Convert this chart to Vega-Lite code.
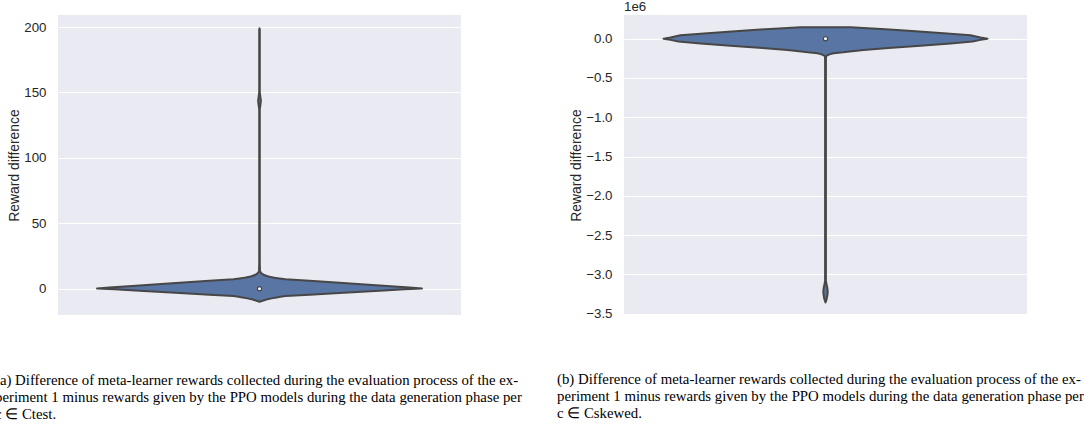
{
  "$schema": "https://vega.github.io/schema/vega-lite/v6.json",
  "padding": {"left": -5, "top": 0, "right": 0, "bottom": 0},
  "autosize": {"type": "pad"},
  "bounds": "flush",
  "spacing": 163,
  "config": {
    "view": {"fill": "#eaeaf2", "stroke": null},
    "font": "Liberation Sans",
    "axis": {"grid": true, "gridColor": "#ffffff", "gridWidth": 1.2, "domain": false, "ticks": false, "tickSize": 0, "labelFont": "Liberation Sans", "labelFontSize": 13.3, "labelColor": "#262626", "labelPadding": 12, "titleFont": "Liberation Sans", "titleFontSize": 13.9, "titleFontWeight": "normal", "titleColor": "#262626", "titlePadding": 2},
    "title": {"font": "Liberation Serif", "fontSize": 14.8, "fontWeight": "normal", "color": "#000000", "orient": "bottom", "anchor": "start", "frame": "group", "lineHeight": 17}
  },
  "datasets": {
    "a": [
      {"v": -10.0, "l": 0, "r": 0},
      {"v": -9.6, "l": -0.0037, "r": 0.0037},
      {"v": -9.2, "l": -0.0074, "r": 0.0074},
      {"v": -8.6, "l": -0.0136, "r": 0.0136},
      {"v": -8.0, "l": -0.0199, "r": 0.0199},
      {"v": -7.4, "l": -0.0298, "r": 0.0298},
      {"v": -6.8, "l": -0.0422, "r": 0.0422},
      {"v": -6.2, "l": -0.0521, "r": 0.0521},
      {"v": -5.6, "l": -0.0645, "r": 0.0645},
      {"v": -4.6, "l": -0.1241, "r": 0.1241},
      {"v": -3.3, "l": -0.1985, "r": 0.1985},
      {"v": -1.5, "l": -0.2978, "r": 0.2978},
      {"v": -0.5, "l": -0.3598, "r": 0.3598},
      {"v": 0.2, "l": -0.4032, "r": 0.4032},
      {"v": 1.0, "l": -0.3722, "r": 0.3722},
      {"v": 2.5, "l": -0.2978, "r": 0.2978},
      {"v": 4.5, "l": -0.1985, "r": 0.1985},
      {"v": 6.0, "l": -0.1241, "r": 0.1241},
      {"v": 7.2, "l": -0.0645, "r": 0.0645},
      {"v": 7.8, "l": -0.0496, "r": 0.0496},
      {"v": 8.3, "l": -0.0372, "r": 0.0372},
      {"v": 9.0, "l": -0.0273, "r": 0.0273},
      {"v": 9.5, "l": -0.0199, "r": 0.0199},
      {"v": 10.1, "l": -0.0149, "r": 0.0149},
      {"v": 10.7, "l": -0.0099, "r": 0.0099},
      {"v": 11.2, "l": -0.0074, "r": 0.0074},
      {"v": 11.7, "l": -0.005, "r": 0.005},
      {"v": 12.5, "l": -0.0025, "r": 0.0025},
      {"v": 14, "l": -0.0012, "r": 0.0012},
      {"v": 20, "l": -0.0007, "r": 0.0007},
      {"v": 137, "l": -0.0007, "r": 0.0007},
      {"v": 140, "l": -0.002, "r": 0.002},
      {"v": 143.5, "l": -0.0035, "r": 0.0035},
      {"v": 147, "l": -0.002, "r": 0.002},
      {"v": 150, "l": -0.0007, "r": 0.0007},
      {"v": 198, "l": -0.0007, "r": 0.0007},
      {"v": 199, "l": 0, "r": 0}
    ],
    "b": [
      {"v": -3358000, "l": 0, "r": 0},
      {"v": -3320000, "l": -0.0025, "r": 0.0025},
      {"v": -3270000, "l": -0.0045, "r": 0.0045},
      {"v": -3218000, "l": -0.0055, "r": 0.0055},
      {"v": -3170000, "l": -0.0045, "r": 0.0045},
      {"v": -3130000, "l": -0.0025, "r": 0.0025},
      {"v": -3080000, "l": -0.001, "r": 0.001},
      {"v": -300000, "l": -0.001, "r": 0.001},
      {"v": -229000, "l": -0.0012, "r": 0.0012},
      {"v": -216000, "l": -0.0032, "r": 0.0032},
      {"v": -200000, "l": -0.0099, "r": 0.0099},
      {"v": -186000, "l": -0.0199, "r": 0.0199},
      {"v": -173000, "l": -0.0439, "r": 0.0439},
      {"v": -165000, "l": -0.0546, "r": 0.0546},
      {"v": -145000, "l": -0.0943, "r": 0.0943},
      {"v": -120000, "l": -0.1563, "r": 0.1563},
      {"v": -90000, "l": -0.2357, "r": 0.2357},
      {"v": -60000, "l": -0.3102, "r": 0.3102},
      {"v": -35000, "l": -0.3648, "r": 0.3648},
      {"v": -15000, "l": -0.3846, "r": 0.3846},
      {"v": 0, "l": -0.402, "r": 0.402},
      {"v": 15000, "l": -0.3846, "r": 0.3846},
      {"v": 43000, "l": -0.3598, "r": 0.3598},
      {"v": 70000, "l": -0.2928, "r": 0.2928},
      {"v": 100000, "l": -0.206, "r": 0.206},
      {"v": 120000, "l": -0.1489, "r": 0.1489},
      {"v": 135000, "l": -0.0943, "r": 0.0943},
      {"v": 145000, "l": -0.062, "r": 0.062}
    ]
  },
  "hconcat": [
    {
      "width": 403,
      "height": 300,
      "title": {
        "text": ["(a) Difference of meta-learner rewards collected during the evaluation process of the ex-", "periment 1 minus rewards given by the PPO models during the data generation phase per", "c ∈ Ctest."],
        "orient": "bottom", "anchor": "start", "frame": "group", "dx": -63, "offset": 58
      },
      "layer": [
        {
          "data": {"name": "a"},
          "mark": {"type": "area", "orient": "horizontal", "fill": "#5875a4", "stroke": "#474747", "strokeWidth": 2, "strokeJoin": "round"},
          "encoding": {
            "y": {"field": "v", "type": "quantitative", "scale": {"domain": [-20.1, 209.2], "nice": false, "zero": false},
                  "axis": {"values": [0, 50, 100, 150, 200], "title": "Reward difference"}},
            "x": {"field": "l", "type": "quantitative", "scale": {"domain": [-0.5, 0.5], "nice": false, "zero": false}, "axis": null},
            "x2": {"field": "r"}
          }
        },
        {
          "data": {"values": [{"median": 0, "cat": 0}]},
          "mark": {"type": "point", "filled": true, "fill": "#ffffff", "stroke": "#474747", "strokeWidth": 1.2, "size": 18, "opacity": 1},
          "encoding": {
            "y": {"field": "median", "type": "quantitative", "scale": {"domain": [-20.1, 209.2], "nice": false, "zero": false}},
            "x": {"field": "cat", "type": "quantitative", "scale": {"domain": [-0.5, 0.5], "nice": false, "zero": false}, "axis": null}
          }
        }
      ]
    },
    {
      "width": 403,
      "height": 300,
      "title": {
        "text": ["(b) Difference of meta-learner rewards collected during the evaluation process of the ex-", "periment 1 minus rewards given by the PPO models during the data generation phase per", "c ∈ Cskewed."],
        "orient": "bottom", "anchor": "start", "frame": "group", "dx": -67, "offset": 52
      },
      "layer": [
        {
          "data": {"name": "b"},
          "mark": {"type": "area", "orient": "horizontal", "fill": "#5875a4", "stroke": "#474747", "strokeWidth": 2, "strokeJoin": "round"},
          "encoding": {
            "y": {"field": "v", "type": "quantitative", "scale": {"domain": [-3517000, 301500], "nice": false, "zero": false},
                  "axis": {"values": [0, -500000, -1000000, -1500000, -2000000, -2500000, -3000000, -3500000], "labelExpr": "format(datum.value / 1000000, '.1f')", "title": "Reward difference"}},
            "x": {"field": "l", "type": "quantitative", "scale": {"domain": [-0.5, 0.5], "nice": false, "zero": false}, "axis": null},
            "x2": {"field": "r"}
          }
        },
        {
          "data": {"values": [{"median": 0, "cat": 0}]},
          "mark": {"type": "point", "filled": true, "fill": "#ffffff", "stroke": "#474747", "strokeWidth": 1.2, "size": 18, "opacity": 1},
          "encoding": {
            "y": {"field": "median", "type": "quantitative", "scale": {"domain": [-3517000, 301500], "nice": false, "zero": false}},
            "x": {"field": "cat", "type": "quantitative", "scale": {"domain": [-0.5, 0.5], "nice": false, "zero": false}, "axis": null}
          }
        },
        {
          "data": {"values": [{"t": "1e6"}]},
          "mark": {"type": "text", "align": "left", "baseline": "alphabetic", "dy": -4, "fontSize": 13.3, "color": "#262626", "font": "Liberation Sans"},
          "encoding": {
            "x": {"datum": -0.5, "type": "quantitative", "scale": {"domain": [-0.5, 0.5], "nice": false, "zero": false}},
            "y": {"datum": 301500, "type": "quantitative", "scale": {"domain": [-3517000, 301500], "nice": false, "zero": false}},
            "text": {"field": "t"}
          }
        }
      ]
    }
  ]
}
